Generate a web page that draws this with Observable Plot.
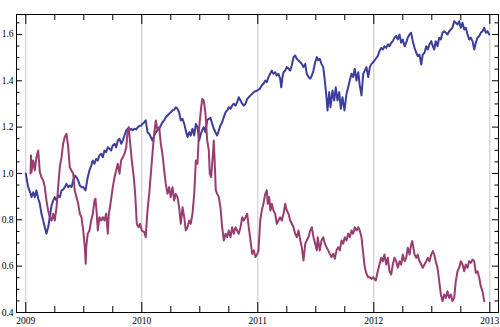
<!DOCTYPE html>
<html>
<head>
<meta charset="utf-8">
<script src="https://cdn.jsdelivr.net/npm/d3@7"></script>
<script src="https://cdn.jsdelivr.net/npm/@observablehq/plot@0.6"></script>
<style>
  html, body { margin: 0; padding: 0; background: white; }
</style>
</head>
<body>
<script>
// [year, value]
const blue = [[2009.000,1.000],[2009.021,0.941],[2009.041,0.914],[2009.049,0.898],[2009.064,0.919],[2009.078,0.898],[2009.092,0.927],[2009.107,0.892],[2009.121,0.870],[2009.135,0.827],[2009.150,0.797],[2009.164,0.768],[2009.178,0.740],[2009.193,0.768],[2009.207,0.811],[2009.222,0.862],[2009.236,0.883],[2009.250,0.898],[2009.265,0.883],[2009.279,0.905],[2009.293,0.898],[2009.308,0.927],[2009.322,0.930],[2009.336,0.941],[2009.351,0.955],[2009.366,0.941],[2009.379,0.948],[2009.394,0.941],[2009.409,0.970],[2009.422,0.991],[2009.437,0.984],[2009.452,0.970],[2009.466,0.948],[2009.480,0.941],[2009.495,0.941],[2009.515,0.927],[2009.534,0.984],[2009.549,1.013],[2009.564,1.034],[2009.578,1.056],[2009.592,1.042],[2009.607,1.063],[2009.621,1.056],[2009.635,1.078],[2009.650,1.085],[2009.664,1.070],[2009.678,1.099],[2009.693,1.092],[2009.707,1.113],[2009.722,1.107],[2009.736,1.099],[2009.750,1.121],[2009.765,1.128],[2009.779,1.113],[2009.793,1.142],[2009.808,1.150],[2009.822,1.128],[2009.836,1.142],[2009.851,1.164],[2009.866,1.186],[2009.879,1.193],[2009.894,1.186],[2009.909,1.193],[2009.922,1.186],[2009.937,1.193],[2009.952,1.190],[2009.966,1.200],[2009.980,1.205],[2009.995,1.207],[2010.006,1.214],[2010.021,1.221],[2010.034,1.229],[2010.049,1.178],[2010.064,1.171],[2010.078,1.157],[2010.092,1.142],[2010.107,1.164],[2010.121,1.178],[2010.135,1.186],[2010.150,1.193],[2010.164,1.207],[2010.178,1.221],[2010.193,1.229],[2010.207,1.243],[2010.222,1.250],[2010.236,1.258],[2010.250,1.264],[2010.265,1.272],[2010.279,1.275],[2010.293,1.286],[2010.308,1.279],[2010.322,1.264],[2010.336,1.229],[2010.351,1.236],[2010.366,1.214],[2010.379,1.186],[2010.394,1.157],[2010.409,1.178],[2010.422,1.164],[2010.437,1.193],[2010.452,1.164],[2010.466,1.214],[2010.480,1.200],[2010.495,1.142],[2010.509,1.171],[2010.521,1.186],[2010.534,1.200],[2010.549,1.178],[2010.564,1.229],[2010.578,1.236],[2010.592,1.240],[2010.607,1.214],[2010.621,1.193],[2010.635,1.178],[2010.650,1.164],[2010.664,1.186],[2010.678,1.207],[2010.693,1.221],[2010.707,1.243],[2010.722,1.264],[2010.736,1.272],[2010.750,1.286],[2010.765,1.279],[2010.779,1.293],[2010.793,1.301],[2010.808,1.293],[2010.822,1.308],[2010.836,1.329],[2010.851,1.315],[2010.866,1.301],[2010.879,1.293],[2010.894,1.301],[2010.909,1.322],[2010.922,1.329],[2010.937,1.337],[2010.952,1.344],[2010.966,1.351],[2010.980,1.355],[2010.995,1.358],[2011.017,1.365],[2011.034,1.380],[2011.049,1.387],[2011.064,1.401],[2011.078,1.394],[2011.092,1.416],[2011.107,1.430],[2011.121,1.444],[2011.135,1.430],[2011.150,1.437],[2011.164,1.423],[2011.178,1.430],[2011.193,1.409],[2011.202,1.372],[2011.213,1.416],[2011.222,1.437],[2011.236,1.444],[2011.250,1.459],[2011.265,1.452],[2011.279,1.444],[2011.293,1.466],[2011.308,1.502],[2011.322,1.509],[2011.336,1.495],[2011.351,1.488],[2011.366,1.480],[2011.379,1.473],[2011.394,1.459],[2011.409,1.473],[2011.422,1.430],[2011.437,1.416],[2011.452,1.409],[2011.466,1.423],[2011.480,1.444],[2011.495,1.480],[2011.509,1.502],[2011.521,1.488],[2011.534,1.495],[2011.549,1.473],[2011.564,1.459],[2011.578,1.401],[2011.592,1.329],[2011.601,1.272],[2011.616,1.351],[2011.627,1.286],[2011.644,1.358],[2011.659,1.315],[2011.672,1.372],[2011.687,1.315],[2011.702,1.351],[2011.716,1.279],[2011.730,1.329],[2011.747,1.272],[2011.765,1.344],[2011.779,1.372],[2011.793,1.401],[2011.808,1.430],[2011.822,1.416],[2011.836,1.452],[2011.851,1.401],[2011.866,1.437],[2011.879,1.380],[2011.894,1.337],[2011.909,1.430],[2011.922,1.444],[2011.937,1.459],[2011.952,1.416],[2011.966,1.459],[2011.980,1.473],[2011.995,1.480],[2012.017,1.495],[2012.034,1.506],[2012.049,1.528],[2012.064,1.542],[2012.078,1.535],[2012.092,1.549],[2012.107,1.542],[2012.121,1.557],[2012.135,1.549],[2012.150,1.564],[2012.164,1.571],[2012.178,1.586],[2012.193,1.593],[2012.207,1.578],[2012.222,1.600],[2012.236,1.564],[2012.250,1.578],[2012.265,1.549],[2012.279,1.564],[2012.293,1.586],[2012.308,1.600],[2012.322,1.607],[2012.336,1.571],[2012.351,1.542],[2012.366,1.521],[2012.379,1.506],[2012.394,1.513],[2012.409,1.470],[2012.422,1.513],[2012.437,1.521],[2012.452,1.549],[2012.466,1.535],[2012.480,1.557],[2012.495,1.571],[2012.509,1.549],[2012.521,1.535],[2012.534,1.571],[2012.549,1.549],[2012.564,1.586],[2012.578,1.578],[2012.592,1.607],[2012.607,1.614],[2012.621,1.607],[2012.635,1.600],[2012.650,1.614],[2012.664,1.621],[2012.678,1.629],[2012.693,1.657],[2012.707,1.650],[2012.722,1.643],[2012.736,1.657],[2012.750,1.629],[2012.765,1.650],[2012.779,1.621],[2012.793,1.629],[2012.808,1.600],[2012.822,1.578],[2012.836,1.586],[2012.851,1.571],[2012.866,1.535],[2012.879,1.564],[2012.894,1.586],[2012.909,1.593],[2012.922,1.607],[2012.937,1.614],[2012.952,1.629],[2012.966,1.607],[2012.980,1.614],[2012.995,1.600]];

const purple = [[2009.041,1.000],[2009.045,1.078],[2009.049,1.006],[2009.064,1.056],[2009.078,1.013],[2009.092,1.070],[2009.107,1.099],[2009.121,1.006],[2009.135,0.984],[2009.150,0.970],[2009.164,0.941],[2009.178,0.883],[2009.193,0.840],[2009.207,0.811],[2009.222,0.797],[2009.236,0.826],[2009.250,0.797],[2009.265,0.854],[2009.279,0.941],[2009.293,1.027],[2009.308,1.070],[2009.322,1.128],[2009.336,1.157],[2009.351,1.171],[2009.366,1.113],[2009.379,1.027],[2009.394,1.013],[2009.409,0.999],[2009.422,0.927],[2009.437,0.898],[2009.452,0.869],[2009.466,0.826],[2009.480,0.811],[2009.495,0.754],[2009.509,0.682],[2009.517,0.610],[2009.521,0.682],[2009.534,0.740],[2009.549,0.754],[2009.564,0.797],[2009.578,0.826],[2009.592,0.883],[2009.601,0.891],[2009.612,0.826],[2009.621,0.754],[2009.635,0.811],[2009.650,0.797],[2009.664,0.811],[2009.678,0.797],[2009.693,0.826],[2009.707,0.740],[2009.716,0.826],[2009.730,0.869],[2009.750,0.941],[2009.765,0.984],[2009.779,1.013],[2009.793,1.042],[2009.808,0.999],[2009.822,1.056],[2009.836,1.070],[2009.851,1.085],[2009.866,1.113],[2009.879,1.186],[2009.888,1.200],[2009.900,1.128],[2009.914,1.056],[2009.931,0.984],[2009.943,0.912],[2009.957,0.783],[2009.972,0.768],[2009.986,0.783],[2010.000,0.754],[2010.021,0.747],[2010.034,0.725],[2010.049,0.840],[2010.064,0.912],[2010.078,0.999],[2010.092,1.085],[2010.107,1.171],[2010.121,1.229],[2010.135,1.186],[2010.150,1.200],[2010.164,1.128],[2010.178,1.085],[2010.193,1.013],[2010.207,0.955],[2010.222,0.912],[2010.236,0.941],[2010.250,0.898],[2010.265,0.941],[2010.279,0.883],[2010.293,0.912],[2010.308,0.898],[2010.322,0.854],[2010.336,0.783],[2010.351,0.854],[2010.366,0.811],[2010.379,0.754],[2010.394,0.768],[2010.409,0.797],[2010.422,0.783],[2010.437,0.826],[2010.452,0.912],[2010.466,1.056],[2010.480,1.042],[2010.495,1.200],[2010.509,1.272],[2010.521,1.322],[2010.534,1.315],[2010.549,1.258],[2010.564,1.142],[2010.578,1.099],[2010.586,0.999],[2010.598,0.984],[2010.609,1.056],[2010.621,1.142],[2010.627,1.070],[2010.638,0.927],[2010.650,0.912],[2010.664,0.898],[2010.678,0.854],[2010.693,0.768],[2010.707,0.711],[2010.722,0.740],[2010.736,0.725],[2010.750,0.754],[2010.765,0.725],[2010.779,0.768],[2010.793,0.740],[2010.808,0.768],[2010.822,0.754],[2010.836,0.740],[2010.851,0.768],[2010.866,0.811],[2010.879,0.797],[2010.894,0.811],[2010.909,0.826],[2010.922,0.768],[2010.937,0.711],[2010.952,0.653],[2010.966,0.668],[2010.980,0.639],[2010.995,0.653],[2011.006,0.668],[2011.021,0.797],[2011.034,0.840],[2011.049,0.869],[2011.064,0.912],[2011.078,0.927],[2011.086,0.869],[2011.098,0.898],[2011.109,0.840],[2011.121,0.869],[2011.135,0.840],[2011.150,0.826],[2011.164,0.783],[2011.178,0.797],[2011.193,0.811],[2011.207,0.797],[2011.222,0.826],[2011.236,0.869],[2011.250,0.840],[2011.265,0.826],[2011.279,0.797],[2011.293,0.783],[2011.308,0.768],[2011.322,0.740],[2011.336,0.725],[2011.351,0.754],[2011.366,0.711],[2011.379,0.682],[2011.394,0.624],[2011.409,0.697],[2011.422,0.711],[2011.437,0.725],[2011.452,0.754],[2011.466,0.768],[2011.480,0.725],[2011.495,0.697],[2011.509,0.668],[2011.517,0.725],[2011.534,0.668],[2011.549,0.711],[2011.564,0.725],[2011.578,0.697],[2011.592,0.682],[2011.607,0.668],[2011.621,0.653],[2011.635,0.639],[2011.650,0.653],[2011.664,0.632],[2011.678,0.668],[2011.693,0.682],[2011.707,0.668],[2011.722,0.711],[2011.736,0.697],[2011.750,0.725],[2011.765,0.711],[2011.779,0.740],[2011.793,0.725],[2011.808,0.754],[2011.822,0.740],[2011.836,0.768],[2011.851,0.754],[2011.866,0.768],[2011.879,0.754],[2011.894,0.725],[2011.909,0.653],[2011.922,0.596],[2011.937,0.567],[2011.952,0.552],[2011.966,0.552],[2011.980,0.545],[2011.995,0.552],[2012.017,0.538],[2012.034,0.578],[2012.049,0.607],[2012.064,0.636],[2012.078,0.621],[2012.092,0.650],[2012.107,0.607],[2012.121,0.636],[2012.135,0.578],[2012.150,0.564],[2012.164,0.607],[2012.178,0.636],[2012.193,0.621],[2012.207,0.593],[2012.222,0.621],[2012.236,0.607],[2012.250,0.650],[2012.265,0.621],[2012.279,0.636],[2012.293,0.679],[2012.308,0.650],[2012.322,0.693],[2012.331,0.708],[2012.342,0.679],[2012.351,0.650],[2012.366,0.636],[2012.379,0.650],[2012.394,0.621],[2012.409,0.607],[2012.422,0.593],[2012.437,0.607],[2012.452,0.621],[2012.466,0.636],[2012.480,0.621],[2012.495,0.650],[2012.509,0.665],[2012.521,0.650],[2012.534,0.621],[2012.549,0.593],[2012.564,0.535],[2012.578,0.478],[2012.592,0.449],[2012.607,0.478],[2012.621,0.463],[2012.635,0.492],[2012.650,0.463],[2012.664,0.478],[2012.678,0.449],[2012.693,0.463],[2012.707,0.535],[2012.722,0.578],[2012.736,0.593],[2012.750,0.621],[2012.765,0.607],[2012.779,0.578],[2012.793,0.607],[2012.808,0.593],[2012.822,0.621],[2012.836,0.614],[2012.851,0.629],[2012.866,0.621],[2012.879,0.571],[2012.894,0.578],[2012.909,0.550],[2012.922,0.514],[2012.937,0.492],[2012.952,0.449]];

const xMajor = [2009, 2010, 2011, 2012, 2013];
const xMinor = [2009.25, 2009.5, 2009.75, 2010.25, 2010.5, 2010.75, 2011.25, 2011.5, 2011.75, 2012.25, 2012.5, 2012.75];
const yMajor = [0.4, 0.6, 0.8, 1.0, 1.2, 1.4, 1.6];
const yMinor = [0.45, 0.5, 0.55, 0.65, 0.7, 0.75, 0.85, 0.9, 0.95, 1.05, 1.1, 1.15, 1.25, 1.3, 1.35, 1.45, 1.5, 1.55, 1.65];

const W = 500, H = 327;
const mL = 16, mR = 2, mT = 14, mB = 15;
const fw = W - mL - mR, fh = H - mT - mB;
const blueColor = "#3d3d9b", purpleColor = "#993d71";

const chart = Plot.plot({
  width: W, height: H,
  marginLeft: mL, marginRight: mR, marginTop: mT, marginBottom: mB,
  style: { background: "white", fontFamily: "'Liberation Serif', serif", fontSize: "9.5px", color: "black" },
  x: { type: "linear", domain: [2008.92, 2013.075] },
  y: { domain: [0.4, 1.686] },
  marks: [
    Plot.ruleX(xMajor, { stroke: "#c6c6c6", strokeWidth: 1 }),
    Plot.line(blue, { x: d => d[0], y: d => d[1], stroke: blueColor, strokeWidth: 2 }),
    Plot.line(purple, { x: d => d[0], y: d => d[1], stroke: purpleColor, strokeWidth: 2 }),
    // inward ticks, bottom & top
    Plot.tickX(xMajor, { x: d => d, insetTop: fh - 10, stroke: "black" }),
    Plot.tickX(xMinor, { x: d => d, insetTop: fh - 6, stroke: "black" }),
    Plot.tickX(xMajor, { x: d => d, insetBottom: fh - 10, stroke: "black" }),
    Plot.tickX(xMinor, { x: d => d, insetBottom: fh - 6, stroke: "black" }),
    // inward ticks, left & right
    Plot.tickY(yMajor, { y: d => d, insetRight: fw - 6, stroke: "black" }),
    Plot.tickY(yMinor, { y: d => d, insetRight: fw - 3.5, stroke: "black" }),
    Plot.tickY(yMajor, { y: d => d, insetLeft: fw - 6, stroke: "black" }),
    Plot.tickY(yMinor, { y: d => d, insetLeft: fw - 3.5, stroke: "black" }),
    Plot.axisX(xMajor, { anchor: "bottom", tickSize: 0, tickPadding: 5, tickFormat: d3.format("d") }),
    Plot.axisY(yMajor, { anchor: "left", tickSize: 0, tickPadding: 3, tickFormat: d3.format(".1f") }),
    Plot.frame({ stroke: "black", strokeWidth: 1 })
  ]
});
document.body.appendChild(chart);
</script>
</body>
</html>
